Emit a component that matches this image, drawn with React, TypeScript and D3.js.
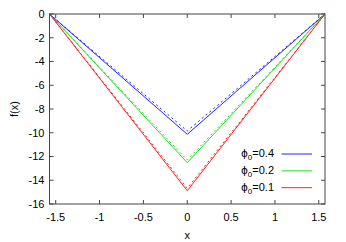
import React from "react";
import * as d3 from "d3";

const PI2 = Math.PI / 2;
const seriesLabels = ["0.4", "0.2", "0.1"];
const colors = ["#2020ff", "#20e020", "#ff2020"];
const solidX = [-PI2, 0, PI2];
const solidY = [
  [0, -10.13, 0],
  [0, -12.52, 0],
  [0, -14.88, 0],
];
const dashedX = [-PI2, 0, PI2];
const dashedY = [
  [0, -9.85, 0],
  [0, -12.3, 0],
  [0, -14.68, 0],
];
const xTicks = [-1.5, -1, -0.5, 0, 0.5, 1, 1.5];
const yTicks = [0, -2, -4, -6, -8, -10, -12, -14, -16];

export default function App() {
  const W = 346, H = 242;
  const L = 49.5, R = 325, T = 14, B = 204;
  const x = d3.scaleLinear().domain([-PI2, PI2]).range([L, R]);
  const y = d3.scaleLinear().domain([-16, 0]).range([B, T]);
  const line = d3.line<[number, number]>().x(d => x(d[0])).y(d => y(d[1]));
  const font = "Liberation Sans, Arial, sans-serif";
  const tl = 4;
  const axisColor = "#444";
  const fs = 11;
  return (
    <svg width={W} height={H} style={{ position: "absolute", left: 0, top: 0 }} fontFamily={font}>
      <rect width={W} height={H} fill="white" />
      {yTicks.map(t => (
        <g key={"y" + t}>
          <line x1={L} x2={L + tl} y1={y(t)} y2={y(t)} stroke={axisColor} />
          <line x1={R} x2={R - tl} y1={y(t)} y2={y(t)} stroke={axisColor} />
          <text x={L - 5} y={y(t)} dy="0.35em" textAnchor="end" fontSize={fs}>{t}</text>
        </g>
      ))}
      {xTicks.map(t => (
        <g key={"x" + t}>
          <line x1={x(t)} x2={x(t)} y1={B} y2={B - tl} stroke={axisColor} />
          <line x1={x(t)} x2={x(t)} y1={T} y2={T + tl} stroke={axisColor} />
          <text x={x(t)} y={B + 17} textAnchor="middle" fontSize={fs}>{t}</text>
        </g>
      ))}
      {solidY.map((ys, i) => (
        <path key={"s" + i} d={line(solidX.map((v, j) => [v, ys[j]]))!} fill="none" stroke={colors[i]} strokeWidth={1} />
      ))}
      {dashedY.map((ys, i) => (
        <path key={"d" + i} d={line(dashedX.map((v, j) => [v, ys[j]]))!} fill="none" stroke={colors[i]} strokeWidth={1} strokeDasharray="2,3" />
      ))}
      <rect x={L} y={T} width={R - L} height={B - T} fill="none" stroke={axisColor} strokeWidth={1} />
      {seriesLabels.map((s, i) => {
        const ly = 154 + i * 16.85;
        return (
          <g key={"l" + i}>
            <text x={274} y={ly} dy="0.3em" textAnchor="end" fontSize={fs}>
              <tspan fontFamily="DejaVu Sans" fontSize={10.5}>ϕ</tspan><tspan fontSize={8} dy="3">0</tspan><tspan dy="-3">={s}</tspan>
            </text>
            <line x1={281.5} x2={312} y1={ly} y2={ly} stroke={colors[i]} />
          </g>
        );
      })}
      <text x={x(0)} y={239} textAnchor="middle" fontSize={fs}>x</text>
      <text transform={`translate(18,${(T + B) / 2}) rotate(-90)`} textAnchor="middle" fontSize={fs}>f(x)</text>
    </svg>
  );
}
